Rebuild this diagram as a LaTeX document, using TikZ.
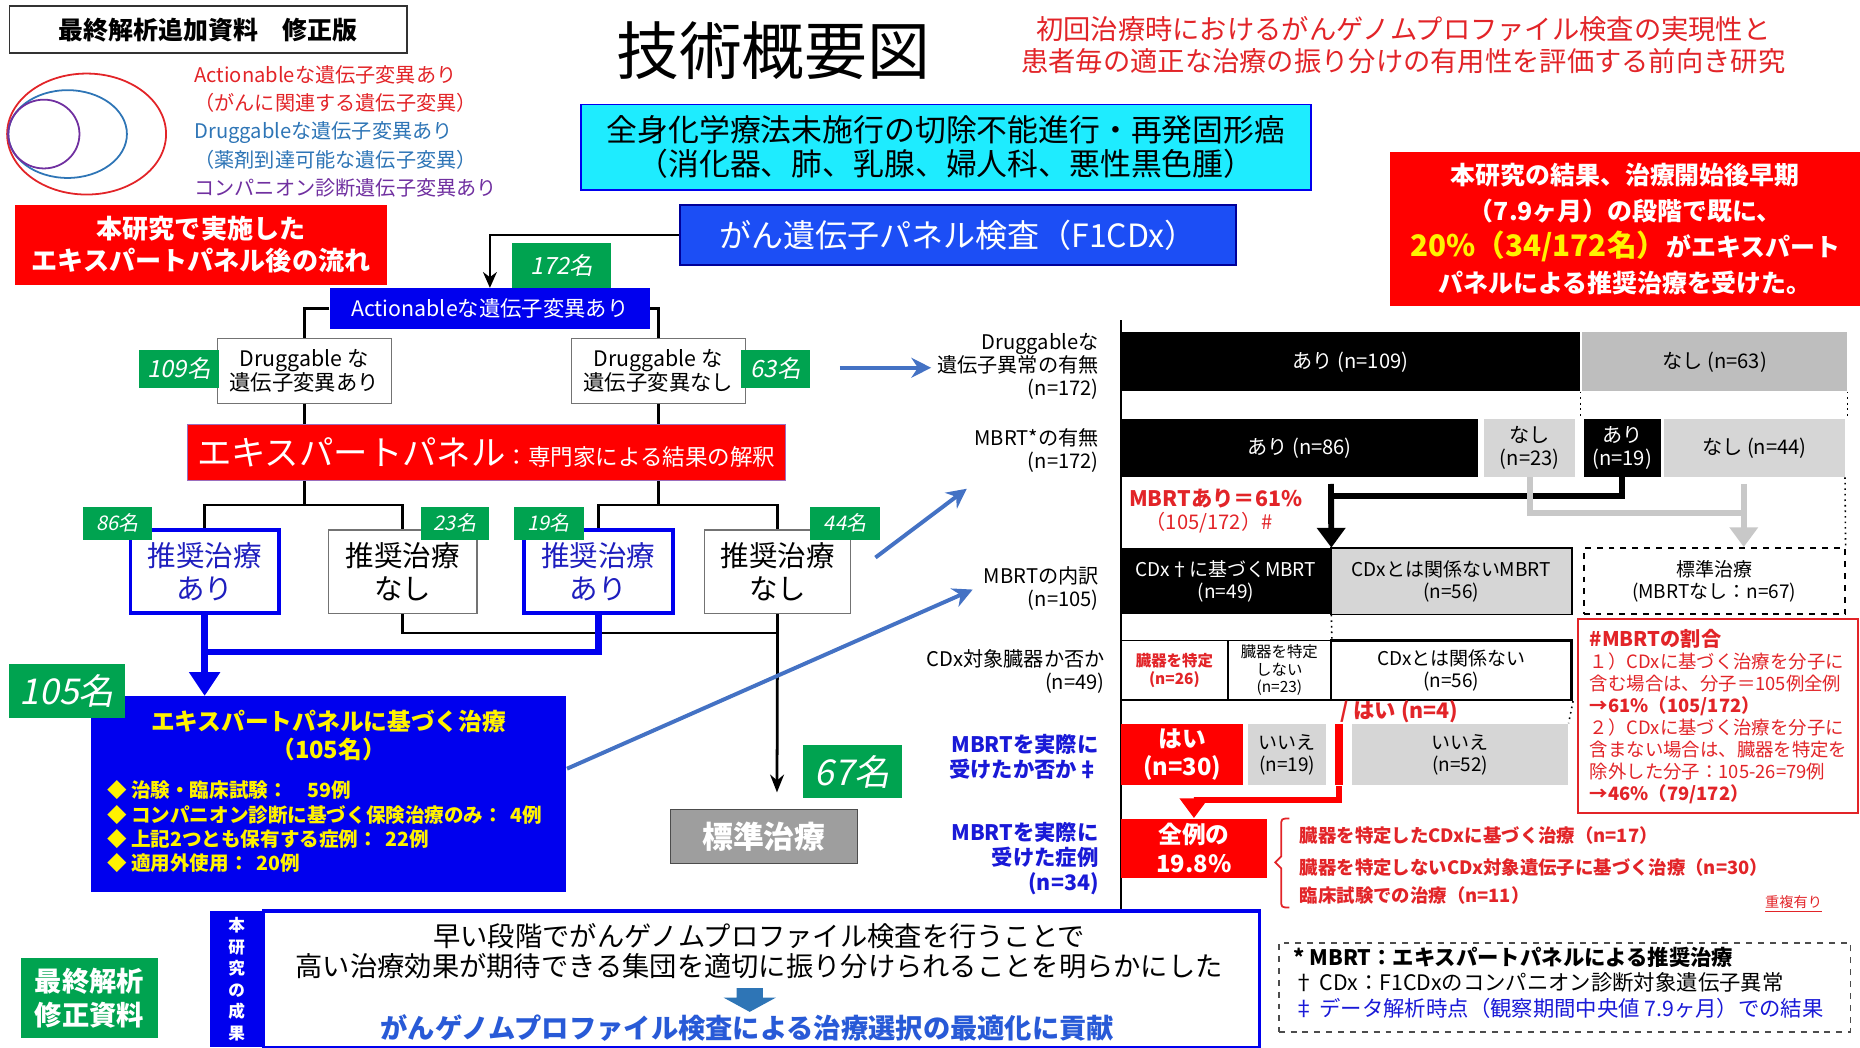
\documentclass[tikz,border=0pt]{standalone}
\usepackage{fontspec}
\setmainfont{Noto Sans CJK JP}[AutoFakeSlant=0.2]
\usetikzlibrary{arrows.meta,positioning}

\definecolor{pred}{RGB}{255,0,0}
\definecolor{tred}{RGB}{226,36,40}
\definecolor{dblue}{RGB}{0,0,238}
\definecolor{pblue}{RGB}{28,78,245}
\definecolor{tcyan}{RGB}{30,236,255}
\definecolor{ngreen}{RGB}{0,163,80}
\definecolor{steel}{RGB}{68,114,196}
\definecolor{lgray}{RGB}{214,214,214}
\definecolor{mgray}{RGB}{190,190,190}
\definecolor{agray}{RGB}{200,200,200}
\definecolor{sgray}{RGB}{158,158,158}
\definecolor{vblue}{RGB}{46,117,182}
\definecolor{vpurple}{RGB}{112,48,160}
\definecolor{rblue}{RGB}{30,30,190}
\definecolor{lblue}{RGB}{25,25,215}
\definecolor{cblue}{RGB}{40,90,215}

% font size given in picture pixels
\newcommand{\fsz}[2]{\fontsize{\fpeval{0.6*#1}}{\fpeval{0.6*#1*#2}}\selectfont}
\newcommand{\fs}[1]{\fsz{#1}{1.2}}
% box from corner (x1,y1) to corner (x2,y2)
\newcommand{\bx}[7]{\node[inner sep=0pt, align=center, minimum width={(#4-#2)*0.6pt}, minimum height={(#5-#3)*0.6pt}, #6] (#1) at ({(#2+#4)/2},{(#3+#5)/2}) {#7};}

\begin{document}
\begin{tikzpicture}[x=0.6pt, y=-0.6pt,
  num/.style={fill=ngreen, text=white, font={\itshape\fs{20}}},
  numsm/.style={fill=ngreen, text=white, font={\itshape\fs{17}}},
  numbig/.style={fill=ngreen, text=white, font={\itshape\fs{30}}},
  wbox/.style={draw=black!55, fill=white, font={\fsz{18}{1.12}}},
  recbox/.style={draw=dblue, line width=2pt, fill=white, text=rblue, font={\fsz{24}{1.15}}},
  norec/.style={draw=black!55, line width=0.8pt, fill=white, font={\fsz{24}{1.15}}},
  conn/.style={line width=1.4pt},
  bpath/.style={draw=dblue, line width=3.4pt},
  sarrow/.style={steel, line width=2pt, -{Stealth[length=10pt,width=10pt]}},
  bar/.style={font={\fsz{17}{1.15}}},
  kbar/.style={bar, fill=black, text=white},
  gbar/.style={bar, fill=lgray},
  cell/.style={draw=black, line width=0.9pt, fill=white},
  rlab/.style={anchor=east, align=right, font={\fsz{17}{1.15}}},
  blab/.style={anchor=east, align=right, text=lblue, font={\bfseries\fsz{18}{1.18}}},
  kthick/.style={line width=3pt},
  gthick/.style={agray, line width=3pt},
  rthick/.style={pred, line width=3pt}
]
\useasboundingbox (0,0) rectangle (1568,883);

% header
\bx{hdr}{8}{5}{343}{45}{draw=black!80, line width=1pt, font={\bfseries\fs{21}}}{最終解析追加資料　修正版}
\node[font=\fs{53}] (ttl) at (652,43) {技術概要図};
\node[text=tred, align=center, font={\fsz{23}{1.17}}] (sub) at (1183,38) {初回治療時におけるがんゲノムプロファイル検査の実現性と\\患者毎の適正な治療の振り分けの有用性を評価する前向き研究};

% venn legend
\foreach \cx/\rx/\ry/\c in {73/67/51/tred, 57/50/37/vblue, 37/30/29/vpurple}
  \draw[\c, line width=0.9pt] (\cx,113) ellipse [x radius=\rx, y radius=\ry];
\node[anchor=west, text=tred, font=\fs{17}] (lgA) at (158,63) {Actionableな遺伝子変異あり};
\node[anchor=west, text=tred, font=\fs{17}] (lgA2) at (158,87) {（がんに関連する遺伝子変異）};
\node[anchor=west, text=vblue, font=\fs{17}] (lgD) at (158,112) {Druggableな遺伝子変異あり};
\node[anchor=west, text=vblue, font=\fs{17}] (lgD2) at (158,135) {（薬剤到達可能な遺伝子変異）};
\node[anchor=west, text=vpurple, font=\fs{17}] (lgC) at (158,158) {コンパニオン診断遺伝子変異あり};

\bx{flow}{13}{173}{326}{240}{fill=pred, text=white, font={\bfseries\fsz{22}{1.22}}}{本研究で実施した\\エキスパートパネル後の流れ}
\bx{tgt}{490}{88}{1105}{160}{fill=tcyan, draw=dblue, line width=0.8pt, font={\fsz{26}{1.12}}}{全身化学療法未施行の切除不能進行・再発固形癌\\（消化器、肺、乳腺、婦人科、悪性黒色腫）}
\bx{cgp}{573}{173}{1042}{223}{fill=pblue, draw=blue!60!black, line width=1pt, text=white, font=\fs{27}}{がん遺伝子パネル検査（F1CDx）}
\bx{res}{1172}{128}{1568}{258}{fill=pred, text=white, font={\bfseries\fsz{21}{1.45}}}{本研究の結果、治療開始後早期\\（7.9ヶ月）の段階で既に、\\{\color{yellow}\fs{25}20\%（34/172名）}がエキスパート\\パネルによる推奨治療を受けた。}

% flow on the left
\bx{act}{278}{243}{548}{277}{fill=dblue, text=white, font=\fs{18}}{Actionableな遺伝子変異あり}
\draw[conn, -{Stealth[length=8pt,width=7pt]}] (cgp.west) -| (act.north);
\bx{n172}{432}{205}{515}{243}{num}{172名}
\bx{dra}{183}{285}{330}{340}{wbox}{Druggable な\\遺伝子変異あり}
\bx{drn}{482}{285}{628}{340}{wbox}{Druggable な\\遺伝子変異なし}
\draw[conn] (act.west) -| (dra.north);
\draw[conn] (act.east) -| (drn.north);
\bx{n109}{117}{295}{185}{327}{num}{109名}
\bx{n63}{625}{295}{683}{327}{num}{63名}

\bx{ep}{158}{358}{662}{405}{fill=pred, draw=vpurple!70, line width=0.8pt, text=white}{{\fs{29}エキスパートパネル}{\fs{19}：専門家による結果の解釈}}
\draw[conn] (dra.south) -- (dra.south |- ep.north);
\draw[conn] (drn.south) -- (drn.south |- ep.north);

\bx{ra1}{110}{447}{235}{517}{recbox}{推奨治療\\あり}
\bx{rn1}{277}{447}{402}{517}{norec}{推奨治療\\なし}
\bx{ra2}{442}{447}{567}{517}{recbox}{推奨治療\\あり}
\bx{rn2}{594}{447}{717}{517}{norec}{推奨治療\\なし}
\draw[conn] (ep.south -| dra.south) -- ++(0,20) coordinate (j1);
\draw[conn] (ra1.north) |- (j1) -| (rn1.north);
\draw[conn] (ep.south -| drn.south) -- ++(0,20) coordinate (j2);
\draw[conn] (ra2.north) |- (j2) -| (rn2.north);
\foreach \nm/\xa/\xb/\t in {n86/70/128/86名, n23/355/412/23名, n19/433/492/19名, n44/683/742/44名}
{
  \bx{\nm}{\xa}{427}{\xb}{455}{numsm}{\t}
}

\bx{tx}{77}{587}{477}{752}{fill=dblue}{}
\draw[conn] (rn1.south) -- ++(0,16) -| (rn2.south);
\bx{std}{565}{682}{723}{728}{fill=sgray, draw=black!70, text=white, font={\bfseries\fs{26}}}{標準治療}
\coordinate (stdin) at (655,668);
\draw[conn, -{Stealth[length=9pt,width=7pt]}] (rn2.south) -- (stdin);
\draw[bpath] (ra1.south) -- ++(0,31) coordinate (bj) -| (ra2.south);
\draw[bpath, -{Triangle[length=12pt,width=15pt]}] (bj) -- (bj |- tx.north);
\node[text=yellow, align=center, font={\bfseries\fsz{20}{1.2}}] (txh) at (277,620) {エキスパートパネルに基づく治療\\（105名）};
\node[anchor=north west, inner sep=0pt, align=left, text=yellow, font={\bfseries\fsz{16.5}{1.23}}] (txl) at (90,658) {◆ 治験・臨床試験：　59例\\◆ コンパニオン診断に基づく保険治療のみ：\, 4例\\◆ 上記2つとも保有する症例：\, 22例\\◆ 適用外使用：\, 20例};
\bx{n105}{8}{560}{105}{605}{numbig}{105名}
\bx{n67}{677}{628}{760}{673}{numbig}{67名}

% arrows to the chart
\coordinate (s1a) at (708,310); \coordinate (s1b) at (785,310);
\coordinate (s2a) at (738,470); \coordinate (s2b) at (815,412);
\coordinate (s3a) at (478,648); \coordinate (s3b) at (820,497);
\draw[sarrow] (s1a) -- (s1b);
\draw[sarrow] (s2a) -- (s2b);
\draw[sarrow] (s3a) -- (s3b);

% chart
\coordinate (ax0) at (945,270); \coordinate (ax1) at (945,783);
\draw[line width=1.3pt] (ax0) -- (ax1);
\node[rlab] (lb1) at (932,309) {Druggableな\\遺伝子異常の有無\\(n=172)};
\node[rlab] (lb2) at (932,380) {MBRT*の有無\\(n=172)};
\node[rlab] (lb3) at (932,496) {MBRTの内訳\\(n=105)};
\node[rlab] (lb4) at (937,566) {CDx対象臓器か否か\\(n=49)};
\node[blab] (lb5) at (932,638) {MBRTを実際に\\受けたか否か‡};
\node[blab] (lb6) at (932,724) {MBRTを実際に\\受けた症例\\(n=34)};

\bx{b1a}{945}{280}{1332}{330}{kbar}{あり (n=109)}
\bx{b1b}{1334}{280}{1557}{330}{bar, fill=mgray}{なし (n=63)}
\bx{b2a}{945}{353}{1246}{402}{kbar}{あり (n=86)}
\bx{b2b}{1251}{353}{1328}{402}{gbar}{なし\\(n=23)}
\bx{b2c}{1335}{353}{1400}{402}{kbar}{あり\\(n=19)}
\bx{b2d}{1403}{353}{1555}{402}{gbar}{なし (n=44)}
\draw[dotted, thick] (b1a.south east) -- (b1a.south east |- b2a.north);
\draw[dotted, thick] (b1b.south east) -- (b1b.south east |- b2d.north);

\bx{c3a}{945}{462}{1122}{518}{kbar, font={\fsz{16}{1.15}}}{CDx†に基づくMBRT\\(n=49)}
\bx{c3b}{1122}{462}{1325}{518}{gbar, draw=black, line width=0.9pt, font={\fsz{16}{1.15}}}{CDxとは関係ないMBRT\\(n=56)}
\bx{std3}{1335}{462}{1555}{518}{draw, dashed, line width=1pt, font={\fsz{16}{1.15}}}{標準治療\\(MBRTなし：n=67)}
\draw[dotted, thick] (b2d.south east) -- (std3.north east);
\coordinate (k1) at (1122,408);
\coordinate (g1) at (1470,408);
\draw[kthick] (b2c.south) -- ++(0,16) -| (k1);
\draw[kthick, -{Triangle[length=10pt,width=14pt]}] (k1) -- (c3a.north east);
\draw[gthick] (b2b.south) -- ++(0,30) -| (g1);
\draw[gthick, -{Triangle[length=10pt,width=14pt]}] (g1) -- (g1 |- std3.north);
\node[anchor=west, text=tred, font={\bfseries\fs{18}}] (p61) at (946,420) {MBRTあり＝61\%};
\node[anchor=west, text=tred, font=\fs{17}] (p61b) at (960,441) {（105/172）\#};

\bx{c4a}{945}{540}{1035}{590}{cell, text=tred, font={\bfseries\fsz{13}{1.2}}}{臓器を特定\\(n=26)}
\bx{c4b}{1035}{540}{1122}{590}{cell, font={\fsz{13}{1.15}}}{臓器を特定\\しない\\(n=23)}
\bx{c4c}{1122}{540}{1325}{590}{cell, line width=1.3pt, font={\fsz{16}{1.15}}}{CDxとは関係ない\\(n=56)}
\draw[dotted, thick] (c3a.south east) -- (c4b.north east);

\bx{c5a}{945}{610}{1048}{662}{fill=pred, text=white, font={\bfseries\fsz{20}{1.15}}}{はい\\(n=30)}
\bx{c5b}{1052}{610}{1118}{662}{gbar, font={\fsz{16}{1.15}}}{いいえ\\(n=19)}
\bx{c5c}{1125}{610}{1132}{662}{fill=pred}{}
\bx{c5d}{1140}{610}{1322}{662}{gbar, font={\fsz{16}{1.15}}}{いいえ\\(n=52)}
\draw[dotted, thick] (c4c.south east) -- (c5d.north east);
\node[anchor=west, text=tred, font={\bfseries\fs{18}}] (yes4) at (1124,600) {/ はい (n=4)};

\bx{c6}{945}{690}{1068}{740}{fill=pred, text=white, font={\bfseries\fsz{20}{1.2}}}{全例の\\19.8\%}
\draw[rthick, -{Triangle[length=10pt,width=14pt]}] (c5c.south) -- ++(0,12) -| (c6.north);

% bracket and treatments
\draw[tred, line width=0.9pt] (1087,690) .. controls (1080,690) .. (1080,697) -- (1080,722) -- (1075,727) -- (1080,732) -- (1080,758) .. controls (1080,765) .. (1087,765);
\node[anchor=west, text=tred, font={\bfseries\fs{15.5}}] (r1) at (1090,704) {臓器を特定したCDxに基づく治療（n=17）};
\node[anchor=west, text=tred, font={\bfseries\fs{15.5}}] (r2) at (1090,731) {臓器を特定しないCDx対象遺伝子に基づく治療（n=30）};
\node[anchor=west, text=tred, font={\bfseries\fs{15.5}}] (r3) at (1090,755) {臨床試験での治療（n=11）};
\node[text=tred, font=\fs{12}] (dup) at (1512,762) {\underline{重複有り}};

\bx{ratio}{1330}{522}{1566}{685}{draw=tred, line width=1pt, fill=white}{}
\node[anchor=north west, inner sep=0pt, align=left, text=tred, font={\fsz{15.5}{1.2}}] (rtxt) at (1340,530) {{\bfseries\fs{17}\#MBRTの割合}\\１）CDxに基づく治療を分子に\\含む場合は、分子＝105例全例\\{\bfseries →61\%（105/172）}\\２）CDxに基づく治療を分子に\\含まない場合は、臓器を特定を\\除外した分子：105-26=79例\\{\bfseries →46\%（79/172）}};

% bottom
\bx{fin}{18}{808}{133}{875}{fill=ngreen, text=white, font={\bfseries\fsz{23}{1.25}}}{最終解析\\修正資料}
\bx{concl}{222}{768}{1062}{883}{draw=dblue, line width=1.6pt, fill=white}{}
\bx{resl}{177}{768}{222}{883}{fill=dblue, text=white, font={\bfseries\fsz{14}{1.3}}}{本\\研\\究\\の\\成\\果}
\node[align=center, font={\fsz{23}{1.1}}] (cl1) at (640,802) {早い段階でがんゲノムプロファイル検査を行うことで\\高い治療効果が期待できる集団を適切に振り分けられることを明らかにした};
\fill[vblue] (621,833) -- (643,833) -- (643,841) -- (654,841) -- (632,853) -- (610,841) -- (621,841) -- cycle;
\node[text=cblue, font={\bfseries\fs{23}}] (cl2) at (630,867) {がんゲノムプロファイル検査による治療選択の最適化に貢献};

\bx{notes}{1078}{795}{1560}{870}{draw=black!70, dashed, line width=0.9pt}{}
\node[anchor=north west, inner sep=0pt, align=left, font={\fsz{18}{1.19}}] (ntxt) at (1090,798) {{\bfseries * MBRT：エキスパートパネルによる推奨治療}\\† CDx：F1CDxのコンパニオン診断対象遺伝子異常\\{\color{lblue}‡ データ解析時点（観察期間中央値 7.9ヶ月）での結果}};
\end{tikzpicture}
\end{document}
